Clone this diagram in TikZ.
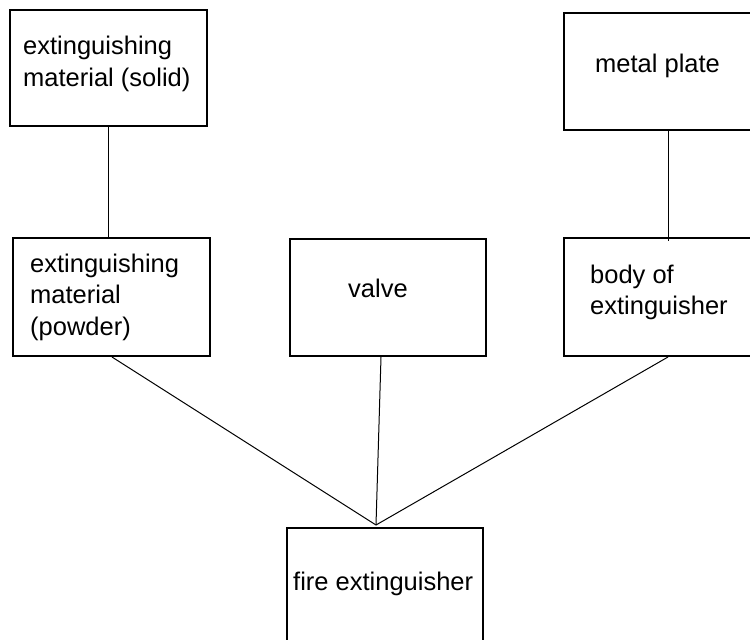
\documentclass[tikz,border=0pt]{standalone}
\usepackage{fontspec}
\setmainfont{Liberation Sans}
\begin{document}
\begin{tikzpicture}[x=1pt,y=-1pt,
  box/.style={draw, line width=2pt, rectangle, inner sep=0pt, anchor=north west},
  lbl/.style={anchor=base west, inner sep=0pt, font=\fontsize{25.5}{31.5}\selectfont},
  link/.style={line width=1pt}]
\useasboundingbox (0,0) rectangle (750,640);
\clip (0,0) rectangle (750,640);
% boxes
\node[box, minimum width=197pt, minimum height=116pt] (b1) at (9,9) {};
\node[box, minimum width=195pt, minimum height=117pt] (b2) at (563,12) {};
\node[box, minimum width=197pt, minimum height=118pt] (b3) at (12,237) {};
\node[box, minimum width=196pt, minimum height=117pt] (b4) at (289,238) {};
\node[box, minimum width=195pt, minimum height=118pt] (b5) at (563,237) {};
\node[box, minimum width=196pt, minimum height=120pt] (b6) at (286,527) {};
% texts
\node[lbl] (t1a) at (23,54) {extinguishing};
\node[lbl] (t1b) at (23,86) {material (solid)};
\node[lbl] (t2) at (595,72) {metal plate};
\node[lbl] (t3a) at (30,272) {extinguishing};
\node[lbl] (t3b) at (30,303) {material};
\node[lbl] (t3c) at (30,335) {(powder)};
\node[lbl] (t4) at (348,297) {valve};
\node[lbl] (t5a) at (590,283) {body of};
\node[lbl] (t5b) at (590,314) {extinguisher};
\node[lbl] (t6) at (293,590) {fire extinguisher};
% connectors
\coordinate (hub) at (376,525);
\draw[link] (b1.south) -- (b1.south |- b3.north);
\draw[link] ([xshift=105pt]b2.south west) -- ([xshift=105pt,yshift=-4pt]b2.south west |- b5.north);
\draw[link] ([xshift=100pt]b3.south west) -- (hub);
\draw[link] ([xshift=92pt]b4.south west) -- (hub);
\draw[link] ([xshift=105pt]b5.south west) -- (hub);
\end{tikzpicture}
\end{document}
